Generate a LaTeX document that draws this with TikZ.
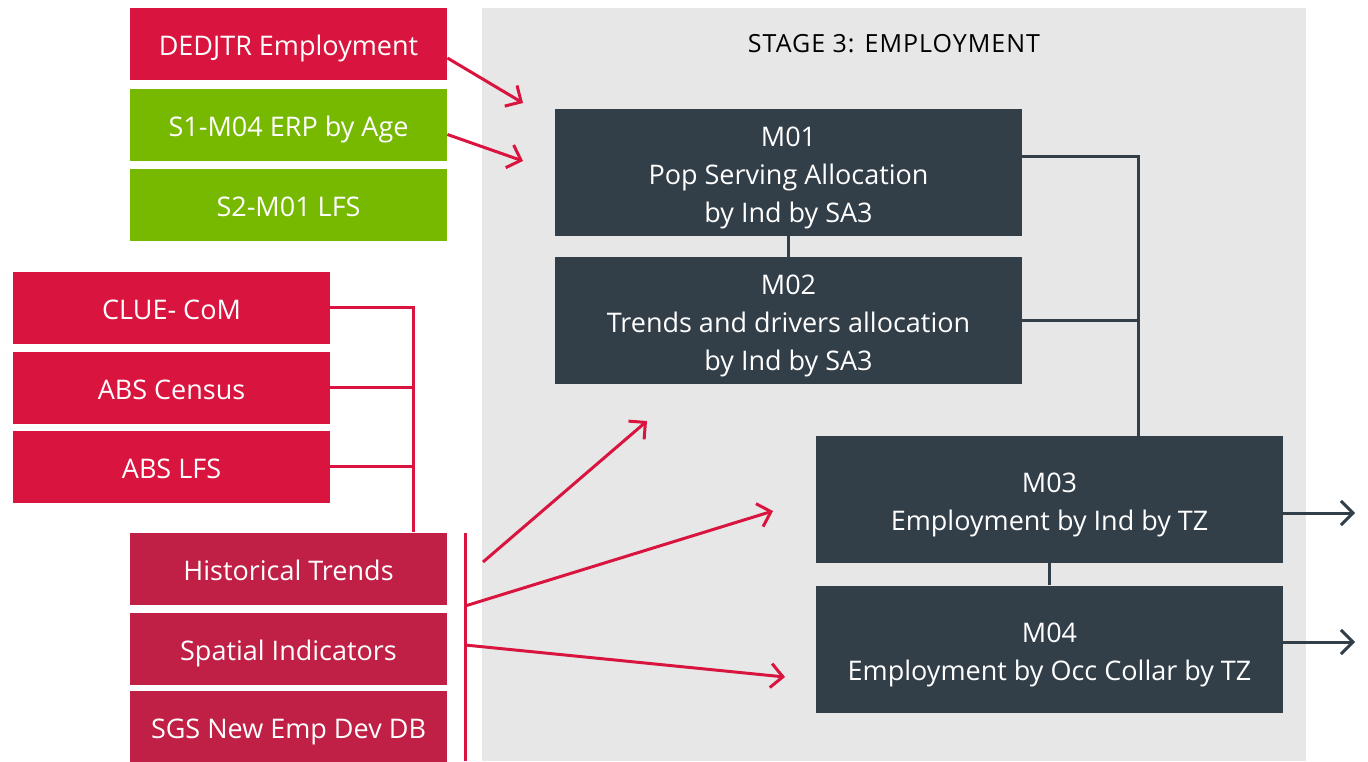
\documentclass[tikz,border=0pt]{standalone}
\usepackage{fontspec}
\setmainfont{Open Sans}
\usetikzlibrary{positioning,calc,arrows.meta}

\definecolor{cRed}{HTML}{D8143F}
\definecolor{cDeep}{HTML}{C01F46}
\definecolor{cGreen}{HTML}{76B900}
\definecolor{cSlate}{HTML}{323E48}
\definecolor{cPanel}{HTML}{E7E7E7}

% extra room above the first line of a module box
\newcommand{\topgap}{\rule{0pt}{15.6pt}}

\begin{document}
\begin{tikzpicture}[
  x=0.5pt, y=-0.5pt,
  font=\fontsize{13.5}{16}\selectfont,
  src/.style   = {fill=cRed, text=white, minimum width=158.5pt,
                  minimum height=36pt, inner sep=0pt,
                  text height=14.5pt, text depth=3pt},
  inp/.style   = {src, fill=cGreen},
  drv/.style   = {src, fill=cDeep},
  mod/.style   = {fill=cSlate, text=white, align=center, minimum width=233.5pt,
                  minimum height=63.5pt, inner sep=0pt,
                  font=\fontsize{13.5}{19}\selectfont},
  link/.style  = {draw=cRed, line width=1.5pt},
  feed/.style  = {link, -{Straight Barb[length=6pt,width=12pt]}},
  tie/.style   = {draw=cSlate, line width=1.5pt},
  emit/.style  = {tie, -{Straight Barb[length=6pt,width=12pt]}},
]

%% ==== page and the stage panel ============================================
\useasboundingbox (0,0) rectangle (1368,761);
\fill[cPanel] (482,8) rectangle (1306,761);
\node[font=\fontsize{12.5}{14}\selectfont\addfontfeatures{LetterSpace=4}]
  (title) at (894,44) {STAGE 3: EMPLOYMENT};

%% ==== upstream sources, top left ==========================================
\node[src] (dedjtr) at (288.5,44)  {DEDJTR Employment};
\node[inp] (erp)    at (288.5,124.5) {S1-M04 ERP by Age};
\node[inp] (lfs)    at (288.5,204.5) {S2-M01 LFS};

%% ==== data sources feeding the trends =====================================
\node[src] (clue)   at (171.5,307.5) {CLUE- CoM};
\node[src] (census) at (171.5,387.5) {ABS Census};
\node[src] (abslfs) at (171.5,466.5) {ABS LFS};

%% ==== drivers, bottom left ================================================
\node[drv] (hist)   at (288.5,568.5) {Historical Trends};
\node[drv] (spat)   at (288.5,648.5) {Spatial Indicators};
\node[drv] (sgs)    at (288.5,727)   {SGS New Emp Dev DB};

%% ==== stage 3 modules =====================================================
\node[mod] (m01) at (788.5,172.5)
  {\topgap M01\\Pop Serving Allocation\\by Ind by SA3};
\node[mod] (m02) at (788.5,320.5)
  {\topgap M02\\Trends and drivers allocation\\by Ind by SA3};
\node[mod] (m03) at (1049.5,499.5)
  {\topgap M03\\Employment by Ind by TZ};
\node[mod] (m04) at (1049.5,649)
  {\topgap M04\\Employment by Occ Collar by TZ};

%% ==== free ends and the trunks ============================================
\coordinate (trunk)  at (413,307);
\coordinate (bartop) at (465,533);
\coordinate (barbot) at (465,761);
\coordinate (tipA)   at (523,103);
\coordinate (tipB)   at (523,161);
\coordinate (fanA)   at (483,562);
\coordinate (tipC)   at (647,421);
\coordinate (tipD)   at (773,511);
\coordinate (tipE)   at (785,677);
\coordinate (spine)  at (1138,156);
\coordinate (outA)   at (1355,513);
\coordinate (outB)   at (1355,642);

%% ==== sources into the stage ==============================================
\draw[feed] ([yshift=-7pt]dedjtr.east) -- (tipA);
\draw[feed] ([yshift=-5pt]erp.east) -- (tipB);

%% ==== sources merged into historical trends ===============================
\draw[link] (clue.east) -| (trunk |- hist.north);
\draw[link] (census.east) -- (census.east -| trunk);
\draw[link] (abslfs.east) -- (abslfs.east -| trunk);

%% ==== drivers bar and its fan =============================================
\draw[link] (bartop) -- (barbot);
\draw[feed] (fanA) -- (tipC);
\draw[feed] (bartop |- 0,606) -- (tipD);
\draw[feed] (bartop |- 0,645) -- (tipE);

%% ==== module links ========================================================
\draw[tie] (m01.south) -- (m01.south |- m02.north);
\draw[tie] (m03.south) -- (m03.south |- m04.north);
\draw[tie] (m01.east |- spine) -- (spine) -- (spine |- m03.north);
\draw[tie] (m02.east) -- (m02.east -| spine);

%% ==== outputs =============================================================
\draw[emit] (m03.east |- outA) -- (outA);
\draw[emit] (m04.east |- outB) -- (outB);

\end{tikzpicture}
\end{document}
